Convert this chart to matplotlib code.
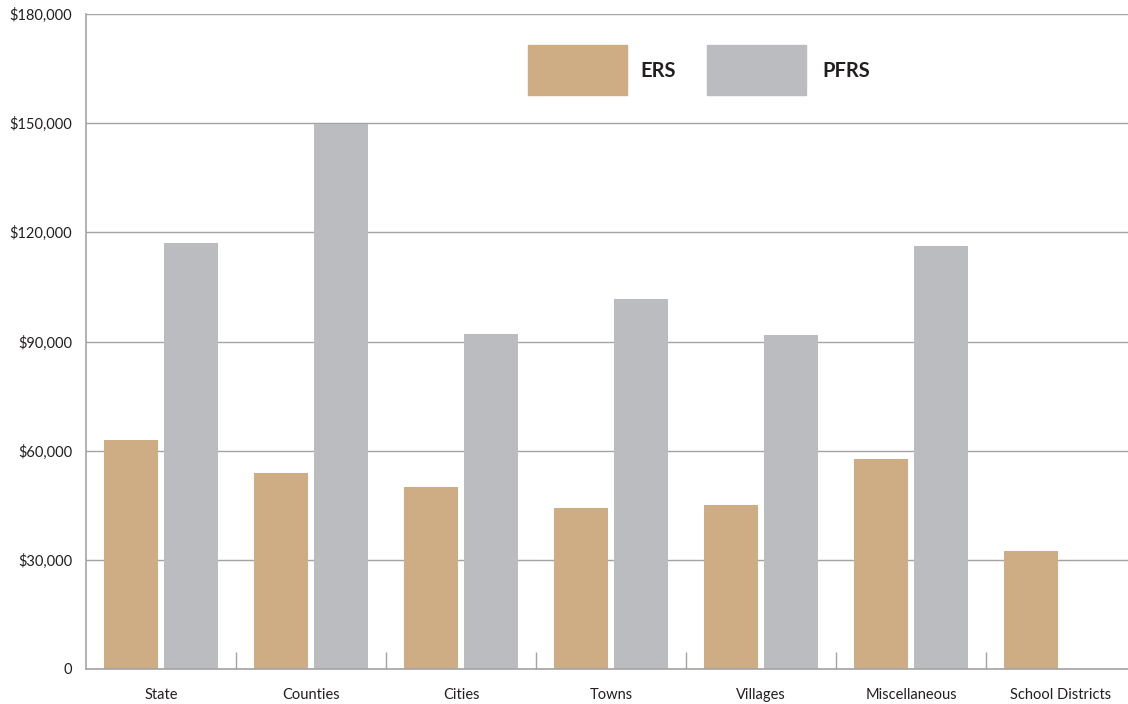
import matplotlib
matplotlib.use("Agg")
import matplotlib.pyplot as plt
from matplotlib.patches import Rectangle
from matplotlib.ticker import FuncFormatter
import numpy as np

plt.rcParams['font.family'] = ['Lato', 'DejaVu Sans']

categories = ["State", "Counties", "Cities", "Towns", "Villages",
              "Miscellaneous", "School Districts"]
ers = [63000, 54000, 50000, 44200, 45100, 57700, 32400]
pfrs = [117000, 149800, 92100, 101700, 91800, 116200, None]
series_names = ["ERS", "PFRS"]
colors = ["#CEAD84", "#BBBCC0"]
grid_color = "#A3A3A5"

fig = plt.figure(figsize=(11.28, 7.04), dpi=100)
ax = fig.add_axes([86 / 1128, 35 / 704, 1 - 86 / 1128, (669 - 14) / 704])

x = np.arange(len(categories))
width = 0.36
offset = 0.20
ax.bar(x - offset, ers, width, color=colors[0], zorder=3)
pf_x = [xi for xi, v in zip(x, pfrs) if v is not None]
pf_v = [v for v in pfrs if v is not None]
ax.bar(np.array(pf_x) + offset, pf_v, width, color=colors[1], zorder=3)

ax.set_ylim(0, 180000)
ax.set_xlim(-0.5, (1128 - 86) / 150 - 0.5)
ax.set_yticks(np.arange(0, 180001, 30000))
ax.yaxis.set_major_formatter(FuncFormatter(lambda v, p: "0" if v == 0 else f"${int(v):,}"))
ax.grid(axis="y", color=grid_color, linewidth=1.0, zorder=0)
ax.set_axisbelow(True)

ax.set_xticks(x)
ax.set_xticklabels(categories)
ax.set_xticks(np.arange(0.5, len(categories) - 1, 1.0), minor=True)
ax.tick_params(axis="x", which="major", length=0, pad=14, labelsize=10.5, labelcolor="#231F20")
ax.tick_params(axis="x", which="minor", direction="in", length=12, width=1.0, color=grid_color)
ax.tick_params(axis="y", length=0, pad=10, labelsize=10.5, labelcolor="#231F20")

for s in ["top", "right"]:
    ax.spines[s].set_visible(False)
for s in ["left", "bottom"]:
    ax.spines[s].set_color(grid_color)
    ax.spines[s].set_linewidth(1.2)
    ax.spines[s].set_zorder(4)

# legend drawn as swatches with bold labels
legend_items = [(528, 640), (707, 822)]
for (px, tx), name, c in zip(legend_items, series_names, colors):
    fig.add_artist(Rectangle((px / 1128, 1 - 95 / 704), 99 / 1128, 50 / 704,
                             transform=fig.transFigure, color=c))
    fig.text(tx / 1128, 1 - 71 / 704, name, fontsize=14.5, fontweight="bold",
             color="#231F20", va="center", ha="left")

fig.savefig("out.png", dpi=100)
